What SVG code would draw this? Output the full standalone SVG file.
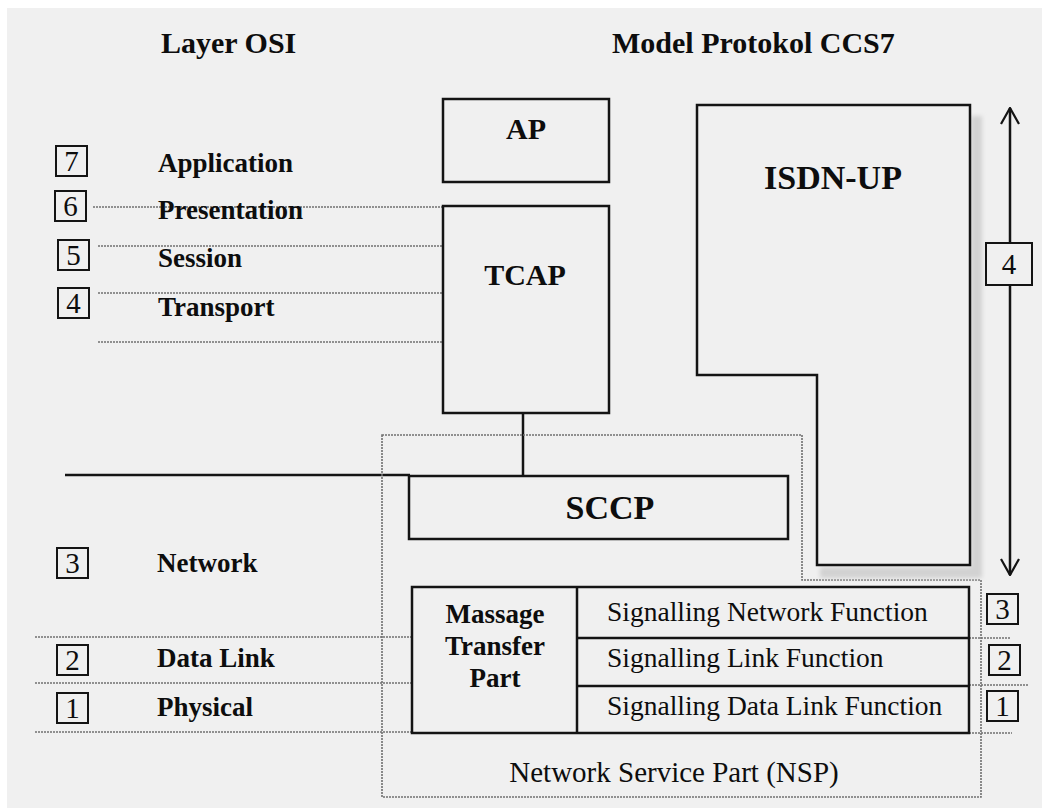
<svg xmlns="http://www.w3.org/2000/svg" width="1042" height="808" viewBox="0 0 1042 808">
  <defs>
    <style>
      .bx{fill:#f0f0f0;stroke:#141414;stroke-width:2.5}
      .nb{fill:#f0f0f0;stroke:#141414;stroke-width:2}
      .dt{fill:none;stroke:#707070;stroke-width:1.6;stroke-dasharray:2 1}
      .ln{fill:none;stroke:#141414;stroke-width:2.5}
      text{font-family:"Liberation Serif","Times New Roman",serif;fill:#0d0d0d}
      .b{font-weight:bold}
      .h{font-size:30px;font-weight:bold}
      .lay{font-size:27px;font-weight:bold}
      .num{font-size:29px;text-anchor:middle}
      .fn{font-size:27.5px}
      .mid{text-anchor:middle}
    </style>
    <marker id="vhead" viewBox="-1 -10 18 20" refX="16" refY="0" markerWidth="18" markerHeight="20" markerUnits="userSpaceOnUse" orient="auto-start-reverse">
      <path d="M0,-9 L16,0 L0,9" fill="none" stroke="#141414" stroke-width="2.2"/>
    </marker>
    <filter id="soft" x="-50%" y="-10%" width="200%" height="120%">
      <feGaussianBlur stdDeviation="2"/>
    </filter>
  </defs>

  <!-- page -->
  <rect x="0" y="0" width="1042" height="808" fill="#ffffff"/>
  <rect x="7" y="8" width="1035" height="800" fill="#f0f0f0"/>

  <!-- column headings -->
  <text class="h" x="161" y="53">Layer OSI</text>
  <text class="h" x="612" y="53">Model Protokol CCS7</text>

  <!-- OSI layer boundaries (dotted) and the SCCP rule -->
  <g id="connectors">
    <line class="dt" x1="93" y1="207" x2="442" y2="207"/>
    <line class="dt" x1="98" y1="246" x2="442" y2="246"/>
    <line class="dt" x1="98" y1="293" x2="442" y2="293"/>
    <line class="dt" x1="98" y1="342" x2="442" y2="342"/>
    <line class="dt" x1="35" y1="637" x2="412" y2="637"/>
    <line class="dt" x1="35" y1="683" x2="412" y2="683"/>
    <line class="dt" x1="35" y1="732" x2="412" y2="732"/>
    <line class="dt" x1="969" y1="638" x2="1010" y2="638"/>
    <line class="dt" x1="969" y1="685" x2="1028" y2="685"/>
    <line class="dt" x1="969" y1="733" x2="1012" y2="733"/>
    <!-- TCAP to SCCP -->
    <line class="ln" x1="523" y1="413" x2="523" y2="476"/>
    <!-- network layer upper boundary -->
    <line class="ln" x1="65" y1="475" x2="410" y2="475"/>
    <!-- span of ISDN-UP over layers 4..7 -->
    <line class="ln" x1="1010" y1="108" x2="1010" y2="575" marker-start="url(#vhead)" marker-end="url(#vhead)"/>
  </g>

  <!-- Network Service Part outline -->
  <g id="nsp">
    <path class="dt" d="M382,435 H802 V580 H981 V797 H382 Z"/>
    <text class="mid" x="674" y="782" style="font-size:29px">Network Service Part (NSP)</text>
  </g>

  <!-- OSI layer numbers and names -->
  <g id="osi-7"><rect class="nb" x="56" y="146" width="31" height="30"/><text class="num" x="71.5" y="171">7</text><text class="lay" x="158" y="172">Application</text></g>
  <g id="osi-6"><rect class="nb" x="55" y="191" width="31" height="30"/><text class="num" x="70.5" y="216">6</text><text class="lay" x="158" y="219">Presentation</text></g>
  <g id="osi-5"><rect class="nb" x="58" y="240" width="31" height="30"/><text class="num" x="73.5" y="265">5</text><text class="lay" x="158" y="267">Session</text></g>
  <g id="osi-4"><rect class="nb" x="58" y="288" width="31" height="30"/><text class="num" x="73.5" y="313">4</text><text class="lay" x="158" y="316">Transport</text></g>
  <g id="osi-3"><rect class="nb" x="57" y="548" width="31" height="30"/><text class="num" x="72.5" y="573">3</text><text class="lay" x="157" y="572">Network</text></g>
  <g id="osi-2"><rect class="nb" x="57" y="645" width="31" height="30"/><text class="num" x="72.5" y="670">2</text><text class="lay" x="157" y="667">Data Link</text></g>
  <g id="osi-1"><rect class="nb" x="57" y="693" width="31" height="30"/><text class="num" x="72.5" y="718">1</text><text class="lay" x="157" y="716">Physical</text></g>

  <!-- CCS7 blocks -->
  <g id="ap">
    <rect class="bx" x="443" y="99" width="166" height="83"/>
    <text class="h mid" x="526" y="139">AP</text>
  </g>
  <g id="tcap">
    <rect class="bx" x="443" y="206" width="166" height="207"/>
    <text class="h mid" x="525" y="285">TCAP</text>
  </g>
  <g id="isdn-up">
    <!-- drop shadow along the right and bottom edges -->
    <path d="M971,116 H982 V578 H820 V567 H971 Z" fill="#d2d2d2" filter="url(#soft)"/>
    <path class="bx" d="M697,105 H970 V565 H817 V375 H697 Z"/>
    <text class="b mid" x="833" y="189" style="font-size:34px">ISDN-UP</text>
  </g>
  <g id="sccp">
    <rect class="bx" x="409" y="476" width="379" height="63"/>
    <text class="b mid" x="610" y="519" style="font-size:34px">SCCP</text>
  </g>
  <g id="mtp">
    <rect class="bx" x="412" y="587" width="557" height="146"/>
    <line class="ln" x1="577" y1="587" x2="577" y2="733"/>
    <line class="ln" x1="577" y1="638" x2="969" y2="638"/>
    <line class="ln" x1="577" y1="686" x2="969" y2="686"/>
    <text class="lay mid" x="495" y="623">Massage</text>
    <text class="lay mid" x="495" y="655">Transfer</text>
    <text class="lay mid" x="495" y="687">Part</text>
    <text class="fn" x="607" y="621">Signalling Network Function</text>
    <text class="fn" x="607" y="667">Signalling Link Function</text>
    <text class="fn" x="607" y="715">Signalling Data Link Function</text>
  </g>

  <!-- CCS7 level numbers -->
  <g id="ccs7-4"><rect class="nb" x="986" y="243" width="46" height="42"/><text class="num" x="1009" y="274">4</text></g>
  <g id="ccs7-3"><rect class="nb" x="987" y="594" width="31" height="30"/><text class="num" x="1002.5" y="619">3</text></g>
  <g id="ccs7-2"><rect class="nb" x="989" y="645" width="31" height="30"/><text class="num" x="1004.5" y="670">2</text></g>
  <g id="ccs7-1"><rect class="nb" x="987" y="691" width="31" height="30"/><text class="num" x="1002.5" y="716">1</text></g>
</svg>
